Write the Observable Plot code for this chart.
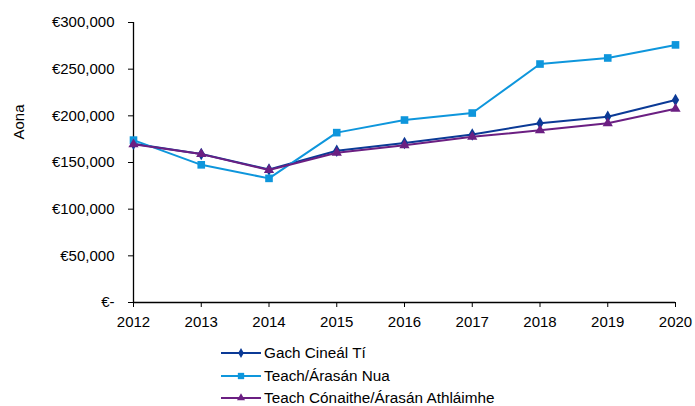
<!DOCTYPE html>
<html>
<head>
<meta charset="utf-8">
<script src="https://cdn.jsdelivr.net/npm/d3@7"></script>
<script src="https://cdn.jsdelivr.net/npm/@observablehq/plot@0.6"></script>
<style>
  html, body { margin: 0; padding: 0; background: #fff; }
  body { width: 695px; height: 406px; overflow: hidden; font-family: Arial, "Liberation Sans", sans-serif; position: relative; }
  #chart { position: relative; }
  #ylabel { position: absolute; left: 18px; top: 122px; transform: translate(-50%, -50%) rotate(-90deg); font-size: 15px; color: #000; white-space: nowrap; }
  #legend { position: relative; height: 76px; }
  .row { position: absolute; left: 221px; display: flex; align-items: center; font-size: 15.3px; color: #000; height: 20px; }
  .row svg { display: block; margin-right: 3px; }
</style>
</head>
<body>
<div id="chart"><div id="ylabel"></div></div>
<div id="legend"></div>
<script>
const years = [2012, 2013, 2014, 2015, 2016, 2017, 2018, 2019, 2020];
const gachCineal = [170000, 159000, 142500, 162500, 171000, 180000, 192000, 199000, 217000];
const teachNua = [174000, 147500, 133000, 182000, 195500, 203000, 255500, 262000, 276000];
const athlaimhe = [169500, 159000, 142000, 160500, 168500, 177500, 184500, 192000, 207500];
const seriesNames = ["Gach Cineál Tí", "Teach/Árasán Nua", "Teach Cónaithe/Árasán Athláimhe"];
const seriesValues = [gachCineal, teachNua, athlaimhe];
const seriesColors = ["#0b3a96", "#0e96dc", "#6b1f82"];
const seriesSymbols = ["diamond", "square", "triangle"];
const yTicks = [0, 50000, 100000, 150000, 200000, 250000, 300000];
const yLabel = "Aona";

const rows = [];
seriesNames.forEach((name, i) => {
  years.forEach((yr, j) => rows.push({series: name, year: yr, value: seriesValues[i][j]}));
});

const fmt = d => d === 0 ? "€-" : "€" + d3.format(",")(d);

const marks = [
  Plot.axisY({ticks: yTicks, tickFormat: fmt, tickSize: 5, tickPadding: 14, label: null}),
  Plot.axisX({ticks: years, tickFormat: "d", tickSize: 5, tickPadding: 9, label: null}),
  Plot.ruleX([2012], {y1: 0, y2: 300000, stroke: "#000", strokeWidth: 1.3}),
  Plot.ruleY([0], {stroke: "#000", strokeWidth: 1.3})
];
seriesNames.forEach((name, i) => {
  const d = rows.filter(r => r.series === name);
  marks.push(Plot.line(d, {x: "year", y: "value", stroke: seriesColors[i], strokeWidth: 2}));
  marks.push(Plot.dot(d, {x: "year", y: "value", fill: seriesColors[i], symbol: seriesSymbols[i], r: i === 1 ? 4.3 : 3.8, stroke: "none"}));
});

const chart = Plot.plot({
  width: 695,
  height: 330,
  marginTop: 22,
  marginBottom: 28,
  marginLeft: 133,
  marginRight: 20,
  style: {fontFamily: "Arial, 'Liberation Sans', sans-serif", fontSize: "15px", color: "#000", background: "#fff"},
  x: {domain: [2012, 2020]},
  y: {domain: [0, 300000]},
  marks
});
document.getElementById("chart").appendChild(chart);
document.getElementById("ylabel").textContent = yLabel;

const legend = d3.select("#legend");
const symbolTypes = {diamond: d3.symbolDiamond, square: d3.symbolSquare, triangle: d3.symbolTriangle};
const symbolSizes = [28, 40, 28];
seriesNames.forEach((name, i) => {
  const row = legend.append("div").attr("class", "row").style("top", (i * 22.7 + 13) + "px");
  const svg = row.append("svg").attr("width", 40).attr("height", 12);
  svg.append("line").attr("x1", 0).attr("x2", 40).attr("y1", 6).attr("y2", 6)
    .attr("stroke", seriesColors[i]).attr("stroke-width", 2);
  svg.append("path").attr("transform", "translate(20,6)")
    .attr("d", d3.symbol(symbolTypes[seriesSymbols[i]], symbolSizes[i])())
    .attr("fill", seriesColors[i]);
  row.append("span").text(name);
});
</script>
</body>
</html>
